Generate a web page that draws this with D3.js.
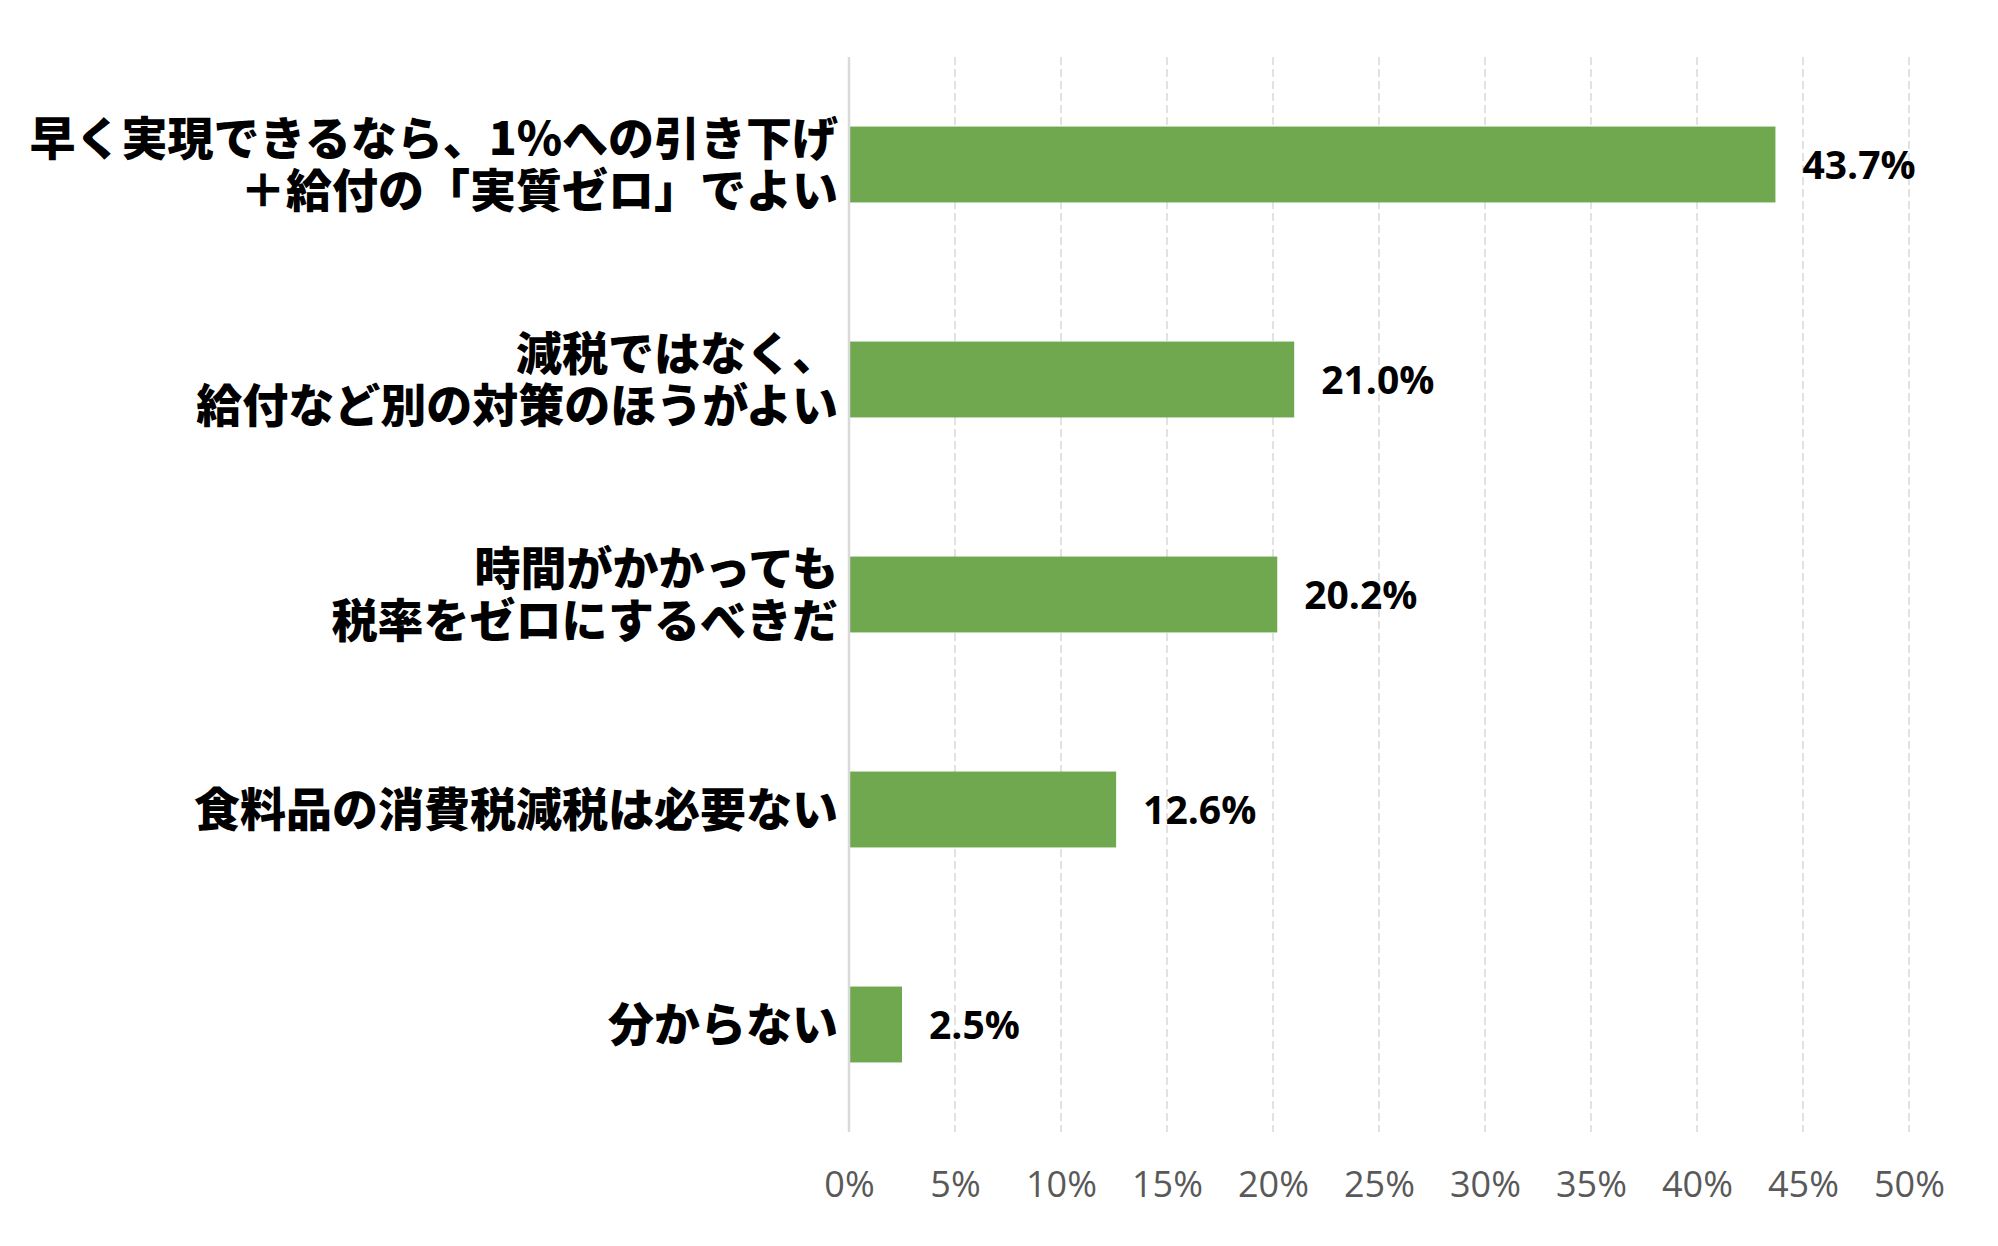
<!DOCTYPE html>
<html>
<head>
<meta charset="utf-8">
<script src="https://cdn.jsdelivr.net/npm/d3@7"></script>
<style>
  body { margin: 0; background: #fff; }
</style>
</head>
<body>
<svg id="drawing_region"></svg>
<script>
const categories = [
    "早く実現できるなら、1%への引き下げ\n＋給付の「実質ゼロ」でよい",
    "減税ではなく、\n給付など別の対策のほうがよい",
    "時間がかかっても\n税率をゼロにするべきだ",
    "食料品の消費税減税は必要ない",
    "分からない"
];
const values = [43.7, 21.0, 20.2, 12.6, 2.5];
const xticks = [0, 5, 10, 15, 20, 25, 30, 35, 40, 45, 50];

const config = {
    width: 1998,
    height: 1246,
    margin: { top: 57, right: 89, bottom: 114, left: 849 }
};

const svg = d3.select('#drawing_region')
    .attr('width', config.width)
    .attr('height', config.height);

const inner_width = config.width - config.margin.left - config.margin.right;
const inner_height = config.height - config.margin.top - config.margin.bottom;

const chart = svg.append('g')
    .attr('transform', `translate(${config.margin.left}, ${config.margin.top})`);

const xscale = d3.scaleLinear()
    .domain([0, 50])
    .range([0, inner_width]);

const yscale = d3.scaleBand()
    .domain(categories)
    .range([0, inner_height])
    .paddingInner(0.647)
    .paddingOuter(0.3235);

// dashed vertical grid
chart.append('g')
    .selectAll('line')
    .data(xticks.filter(d => d > 0))
    .enter()
    .append('line')
    .attr('x1', d => xscale(d))
    .attr('x2', d => xscale(d))
    .attr('y1', 0)
    .attr('y2', inner_height)
    .attr('stroke', '#d9d9d9')
    .attr('stroke-width', 1.5)
    .attr('stroke-dasharray', '8,4');

// x axis labels (no axis line)
const xaxis = d3.axisBottom(xscale)
    .tickValues(xticks)
    .tickFormat(d => d + '%')
    .tickSize(0)
    .tickPadding(0);

const xaxis_group = chart.append('g')
    .attr('transform', `translate(0, ${inner_height})`)
    .call(xaxis);
xaxis_group.select('.domain').remove();
xaxis_group.selectAll('text')
    .attr('y', 65)
    .attr('dy', 0)
    .attr('fill', '#595959')
    .attr('font-family', '"Open Sans", sans-serif')
    .attr('font-size', '36px');

// bars
chart.selectAll('rect.bar')
    .data(values)
    .enter()
    .append('rect')
    .attr('class', 'bar')
    .attr('x', 0)
    .attr('y', (d, i) => yscale(categories[i]))
    .attr('width', d => xscale(d))
    .attr('height', yscale.bandwidth())
    .attr('fill', '#6fa84f');

// baseline
chart.append('line')
    .attr('x1', 0).attr('x2', 0)
    .attr('y1', 0).attr('y2', inner_height)
    .attr('stroke', '#d9d9d9')
    .attr('stroke-width', 2.5);

// value labels
chart.selectAll('text.value')
    .data(values)
    .enter()
    .append('text')
    .attr('class', 'value')
    .attr('x', d => xscale(d) + 27)
    .attr('y', (d, i) => yscale(categories[i]) + yscale.bandwidth() / 2)
    .attr('dy', '0.38em')
    .attr('fill', 'black')
    .attr('font-family', '"Open Sans", sans-serif')
    .attr('font-weight', 'bold')
    .attr('font-size', '39px')
    .text(d => d.toFixed(1) + '%');

// category labels
const line_height = 52;
const labels = chart.selectAll('text.category')
    .data(categories)
    .enter()
    .append('text')
    .attr('class', 'category')
    .attr('text-anchor', 'end')
    .attr('fill', 'black')
    .attr('font-family', '"Noto Sans CJK JP", sans-serif')
    .attr('font-weight', 900)
    .attr('font-size', '46px')
    .attr('transform', d => `translate(-11, ${yscale(d) + yscale.bandwidth() / 2})`);

labels.each(function (d) {
    const lines = d.split('\n');
    const offset = -(lines.length - 1) * line_height / 2;
    d3.select(this).selectAll('tspan')
        .data(lines)
        .enter()
        .append('tspan')
        .attr('x', 0)
        .attr('y', (l, i) => offset + i * line_height)
        .attr('dy', '0.36em')
        .text(l => l);
});
</script>
</body>
</html>
